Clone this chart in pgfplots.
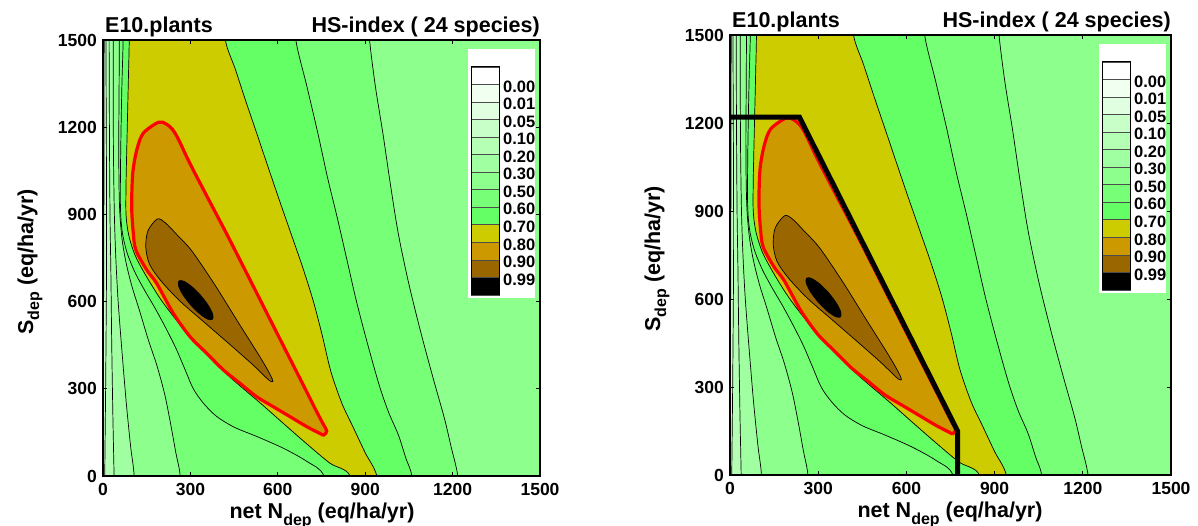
\documentclass[border=0pt]{standalone}
\usepackage{pgfplots}
\pgfplotsset{compat=1.18}
\usepackage{fontspec}
\setmainfont{Liberation Sans}
\definecolor{c1}{HTML}{FFFFFF}
\definecolor{c2}{HTML}{F0FFF0}
\definecolor{c3}{HTML}{E0FFE0}
\definecolor{c4}{HTML}{C8FFC8}
\definecolor{c5}{HTML}{B4FFB4}
\definecolor{c6}{HTML}{A0FFA0}
\definecolor{c7}{HTML}{8CFF8C}
\definecolor{c8}{HTML}{78FF78}
\definecolor{c9}{HTML}{64FF64}
\definecolor{c10}{HTML}{CCCC00}
\definecolor{c11}{HTML}{CC9900}
\definecolor{c12}{HTML}{996600}
\definecolor{c13}{HTML}{000000}
\newcommand\tfont{\bfseries\fontsize{17.5}{17.5}\selectfont}
\newcommand\lfont{\bfseries\fontsize{21.5}{22}\selectfont}
\newcommand\subdep{\raisebox{-0.28em}{\fontsize{16}{16}\selectfont dep}}
\pgfplotsset{
 hs/.style={scale only axis, anchor=south west, xmin=0, xmax=1500, ymin=0, ymax=1500,
   xtick={0,300,...,1500}, ytick={0,300,...,1500}, tick align=inside, major tick length=4pt,
   tick style={black, line width=0.8pt}, axis line style={black, line width=1.2pt},
   ticklabel style={font=\tfont}, /pgf/number format/assume math mode=true,
   /pgf/number format/1000 sep={},
   xticklabel style={inner sep=0pt, yshift=-7pt},
   yticklabel style={inner sep=0pt, xshift=-6pt},
   axis background/.style={fill=c7}, axis on top},
 cl/.style={draw=black, line width=0.7pt, smooth},
 leg/.style={scale only axis, anchor=south west, width=28pt, height=228pt, xmin=0, xmax=1, ymin=0, ymax=13,
   clip=false, xtick=\empty, ytick={1,...,12},
   yticklabels={0.99,0.90,0.80,0.70,0.60,0.50,0.30,0.20,0.10,0.05,0.01,0.00},
   yticklabel pos=right, major tick length=0pt,
   yticklabel style={font=\bfseries\fontsize{16.5}{16.5}\selectfont, inner sep=0pt, xshift=4pt, yshift=-2pt},
   axis line style={black, line width=1pt}, axis on top}
}
\newcommand\contours{%
 % HS > 0.5
 \addplot[cl, fill=c8] coordinates {(272,-150) (265,0) (250,80) (232,180) (212,280) (185,380) (155,470) (125,570) (100,650) (80,730) (66,810) (58,900) (55,1000) (54,1150) (55,1300) (56,1500) (56,1650) (480,1900) (905,1650) (915,1500) (935,1340) (961,1177) (987,1000) (1014,832) (1050,660) (1093,486) (1135,330) (1172,198) (1195,100) (1218,0) (1232,-150)} -- cycle;
 % HS > 0.6
 \addplot[cl, fill=c9] coordinates {(770,-150) (758,0) (700,50) (620,95) (530,135) (450,168) (390,205) (345,250) (310,300) (280,370) (250,440) (215,510) (180,575) (145,635) (110,700) (82,770) (66,840) (60,920) (60,1050) (62,1200) (65,1350) (69,1500) (69,1650) (370,1850) (655,1650) (662,1500) (700,1340) (738,1177) (770,1030) (804,889) (837,745) (870,601) (908,455) (948,313) (980,220) (1014,141) (1040,60) (1060,0) (1075,-150)} -- cycle;
 % HS > 0.7
 \addplot[cl, fill=c10] coordinates {(860,-150) (848,0) (779,44) (700,110) (620,180) (541,250) (436,340) (344,430) (265,520) (200,605) (147,690) (110,760) (88,830) (79,900) (79,1000) (81,1100) (84,1230) (87,1360) (90,1500) (90,1650) (260,1800) (412,1650) (420,1500) (454,1400) (489,1293) (528,1178) (567,1062) (606,947) (646,832) (686,716) (722,601) (752,486) (782,360) (820,250) (860,165) (900,80) (940,0) (960,-150)} -- cycle;
 % HS > 0.8 (red)
 \addplot[draw=red, line width=3.2pt, fill=c11, smooth cycle] coordinates {(190,1217) (215,1212) (238,1193) (258,1160) (298,1076) (358,960) (426,830) (492,700) (550,585) (604,478) (651,385) (695,298) (730,228) (755,180) (768,155) (758,141) (745,146) (699,170) (642,204) (585,238) (527,273) (470,319) (413,365) (356,422) (299,479) (241,560) (184,663) (150,709) (113,777) (104,835) (98.5,926) (102,1041) (116,1122) (138,1179)};
 % HS > 0.9
 \addplot[draw=black, line width=0.7pt, fill=c12, smooth cycle] coordinates {(186,884) (213,872) (252,832) (305,774) (383,659) (462,532) (541,406) (574,348) (583,325) (568,331) (515,382) (436,452) (344,532) (265,601) (200,670) (160,728) (147,786) (154,843)};
 % HS > 0.99
 \addplot[draw=black, line width=0.5pt, fill=c13, smooth cycle] coordinates {(375.7,538.6) (377.1,555.4) (362.6,585.4) (336.1,620.7) (304.8,651.8) (277.1,670.4) (260.3,671.4) (258.9,654.6) (273.4,624.6) (299.9,589.3) (331.2,558.2) (358.9,539.6)};
 % low values near N = 0
 \addplot[cl, fill=c6] coordinates {(110,-150) (107,0) (95,100) (80,250) (65,430) (52,600) (44,750) (39,900) (36,1100) (35,1300) (35,1500) (35,1650) (-200,1650) (-200,-150)} -- cycle;
 \addplot[cl, fill=c5] coordinates {(40,-150) (38,0) (34,200) (30,450) (27,700) (24,900) (22,1200) (21,1500) (21,1650) (-200,1650) (-200,-150)} -- cycle;
 \addplot[cl, fill=c4] coordinates {(6,-150) (6,0) (9,300) (12,700) (12,1000) (10,1500) (10,1650) (-200,1650) (-200,-150)} -- cycle;
 \addplot[cl, fill=c3] coordinates {(-8,-150) (-6,0) (1,400) (3,900) (4,1500) (4,1650) (-200,1650) (-200,-150)} -- cycle;
}
\newcommand\legendboxes{%
 \fill[white] (rel axis cs:-0.107,-0.013) rectangle (rel axis cs:2.286,1.079);
 \addplot[fill=c13, draw=black!70, line width=0.8pt] coordinates {(0,0) (1,0) (1,1) (0,1)} -- cycle;
 \addplot[fill=c12, draw=black!70, line width=0.8pt] coordinates {(0,1) (1,1) (1,2) (0,2)} -- cycle;
 \addplot[fill=c11, draw=black!70, line width=0.8pt] coordinates {(0,2) (1,2) (1,3) (0,3)} -- cycle;
 \addplot[fill=c10, draw=black!70, line width=0.8pt] coordinates {(0,3) (1,3) (1,4) (0,4)} -- cycle;
 \addplot[fill=c9, draw=black!70, line width=0.8pt] coordinates {(0,4) (1,4) (1,5) (0,5)} -- cycle;
 \addplot[fill=c8, draw=black!70, line width=0.8pt] coordinates {(0,5) (1,5) (1,6) (0,6)} -- cycle;
 \addplot[fill=c7, draw=black!70, line width=0.8pt] coordinates {(0,6) (1,6) (1,7) (0,7)} -- cycle;
 \addplot[fill=c6, draw=black!70, line width=0.8pt] coordinates {(0,7) (1,7) (1,8) (0,8)} -- cycle;
 \addplot[fill=c5, draw=black!70, line width=0.8pt] coordinates {(0,8) (1,8) (1,9) (0,9)} -- cycle;
 \addplot[fill=c4, draw=black!70, line width=0.8pt] coordinates {(0,9) (1,9) (1,10) (0,10)} -- cycle;
 \addplot[fill=c3, draw=black!70, line width=0.8pt] coordinates {(0,10) (1,10) (1,11) (0,11)} -- cycle;
 \addplot[fill=c2, draw=black!70, line width=0.8pt] coordinates {(0,11) (1,11) (1,12) (0,12)} -- cycle;
 \addplot[fill=c1, draw=black!70, line width=0.8pt] coordinates {(0,12) (1,12) (1,13) (0,13)} -- cycle;
}
\begin{document}
\begin{tikzpicture}
\path[use as bounding box] (0,0) rectangle (1198pt,526pt);
\begin{axis}[hs, at={(103pt,50pt)}, width=437pt, height=436pt]
\contours
\end{axis}
\begin{axis}[leg, at={(471pt,231pt)}]
\legendboxes
\end{axis}
\begin{axis}[hs, at={(730pt,51pt)}, width=441pt, height=440pt]
\contours
\addplot[black, line width=5pt] coordinates {(-30,1220) (236,1220) (774,150) (774,-30)};
\end{axis}
\begin{axis}[leg, at={(1102pt,236pt)}]
\legendboxes
\end{axis}
\node[anchor=base west, inner sep=0, font=\lfont] at (105pt,493pt) {E10.plants};
\node[anchor=base east, inner sep=0, font=\lfont] at (540pt,493pt) {HS-index ( 24 species)};
\node[anchor=base west, inner sep=0, font=\lfont] at (732pt,498pt) {E10.plants};
\node[anchor=base east, inner sep=0, font=\lfont] at (1171pt,498pt) {HS-index ( 24 species)};
\node[anchor=base, inner sep=0, font=\lfont] at (322pt,7pt) {net N\subdep{} (eq/ha/yr)};
\node[anchor=base, inner sep=0, font=\lfont] at (950pt,8pt) {net N\subdep{} (eq/ha/yr)};
\node[anchor=base, inner sep=0, font=\lfont, rotate=90] at (33pt,264pt) {S\subdep{} (eq/ha/yr)};
\node[anchor=base, inner sep=0, font=\lfont, rotate=90] at (660pt,267pt) {S\subdep{} (eq/ha/yr)};
\end{tikzpicture}
\end{document}
